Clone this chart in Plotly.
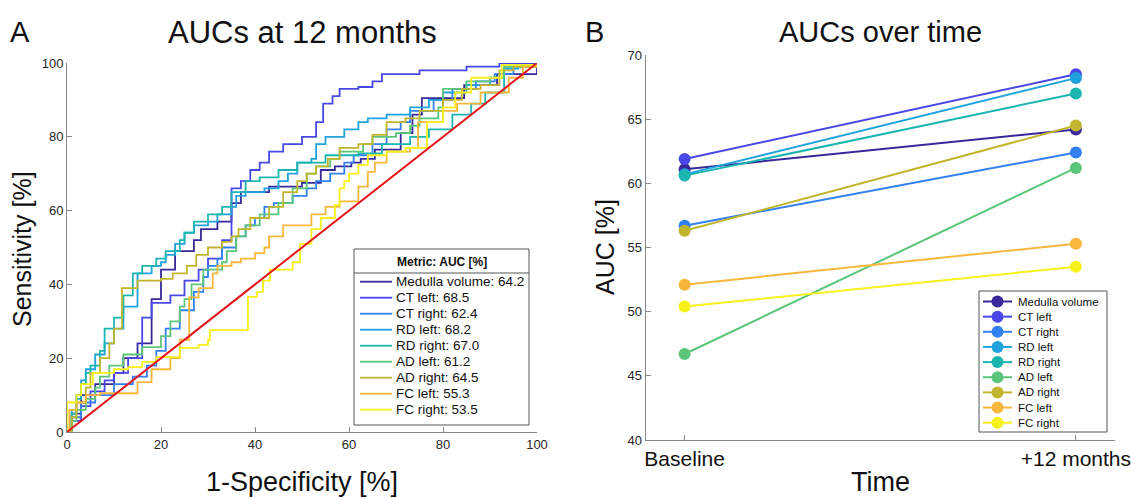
import plotly.graph_objects as go

# ---------------- data ----------------
metrics = ["Medulla volume", "CT left", "CT right", "RD left", "RD right",
           "AD left", "AD right", "FC left", "FC right"]
colors = ["#38299a", "#4848e6", "#3380f0", "#20a2de", "#1bb5b0",
          "#5bc57a", "#c0b52c", "#f6b73c", "#f7f01a"]
auc_baseline = [61.1, 61.9, 56.7, 60.7, 60.6, 46.7, 56.3, 52.1, 50.4]
auc_12m = [64.2, 68.5, 62.4, 68.2, 67.0, 61.2, 64.5, 55.3, 53.5]
time_labels = ["Baseline", "+12 months"]

# ROC curves (1-specificity %, sensitivity %), step vertices
medulla_fpr = [0, 1, 3, 6, 10, 12, 15, 18, 20, 23, 27, 28.5, 32, 35, 37, 43, 50, 54, 57, 60.5, 62.5, 65.5, 71, 73.5, 75.5, 84.5, 91.5, 100]
medulla_tpr = [0, 5, 10, 13, 16, 20, 24, 36, 44, 49, 52, 55, 57, 62, 65, 66.5, 67.5, 71, 72, 73, 74, 76.5, 81, 86, 90.5, 94, 97, 100]

ctl_fpr = [0, 1, 3, 5, 8, 10, 13, 16, 18, 22, 25, 28, 30, 33, 35, 37, 39, 41, 43, 46, 50, 53, 54.5, 56.5, 58, 62, 65, 67, 75, 85, 92, 100]
ctl_tpr = [0, 3, 7, 11, 14, 16, 20, 31, 35, 37, 41, 44, 47, 52, 66, 68, 71, 73, 76, 78, 80, 84, 89, 91, 93, 93.5, 95, 97, 98, 99, 100, 100]

ctr_fpr = [0, 1, 3, 6, 10, 14, 17, 19, 21, 24, 27, 29, 30, 32, 33, 36, 38, 40, 42, 44, 48, 51, 53, 56, 59, 61, 65, 68, 71, 73, 78, 82, 87, 91, 95, 100]
ctr_tpr = [0, 4, 8, 10, 13, 15, 18, 22, 28, 33, 38, 42, 45, 47, 50, 53, 56, 58, 61, 62, 64, 66, 68, 70, 73, 75, 78, 82, 84, 87, 90, 93, 95, 97, 99, 100]

rdl_fpr = [0, 1, 2, 3, 4, 6, 8, 10, 12, 15, 18, 20, 21, 23, 25, 27, 30, 32, 35, 36, 38, 42, 45, 47, 49, 52, 53, 55, 59, 62, 64, 68, 73, 77, 80, 85, 90, 93, 96, 100]
rdl_tpr = [0, 6, 10, 14, 17, 21, 24, 28, 34, 43, 45, 46, 48, 51, 54, 56, 57, 59, 61, 64, 65, 66, 68, 70, 73, 74, 78, 80, 82, 84, 85, 86, 88, 90, 92, 94, 96, 98.5, 99, 100]

rdr_fpr = [0, 1, 2, 3, 4, 5, 7, 8, 10, 12, 14, 16, 19, 21, 24, 25, 27, 30, 33, 35, 38, 41, 45, 49, 55, 62, 67, 73, 77, 82, 86, 89, 93, 100]
rdr_tpr = [0, 5, 9, 13, 16, 18, 22, 28, 31, 37, 43, 45, 47, 49, 52, 54, 57, 59, 61, 65, 68, 69, 71, 73, 75, 75.5, 78, 80, 82, 86, 89, 92, 99, 100]

adl_fpr = [0, 1, 2, 4, 6, 7, 9, 12, 16, 20, 22, 24, 25, 26.5, 29, 33, 34, 36, 38, 41, 45, 48, 51, 53, 56, 58, 63, 65, 70, 73, 75, 79, 80, 85, 90, 93, 100]
adl_tpr = [0, 3, 6, 9, 12, 15, 18, 21, 23, 26, 30, 34, 36, 40, 44, 46, 49, 53, 56, 59, 62, 66, 70, 72, 74, 76, 78, 80, 81, 83, 85, 88, 93, 95, 96, 99, 100]

adr_fpr = [0, 1, 2, 4, 5, 7, 9, 10, 11.7, 15, 20, 22.5, 25.5, 27.5, 30, 33, 35, 36.5, 39, 43, 46, 49, 51, 53, 55.5, 58, 62, 65, 68, 72, 75, 80, 84, 88, 92, 95, 100]
adr_tpr = [0, 4, 8, 12, 16, 20, 24, 28, 39, 41, 41.5, 43, 45, 48, 50, 51.5, 53, 55, 58, 61, 65, 68, 70, 72, 74, 77, 78, 80.5, 84, 85, 87, 90, 93, 94, 98, 99, 100]

fcl_fpr = [0, 0.5, 2, 4, 7, 15, 18, 22, 24, 26, 28, 31, 32, 35, 37, 40, 42, 43, 46, 52, 55, 58, 62, 64, 65.5, 68, 73, 74.7, 80, 83, 88, 94, 97, 100]
fcl_tpr = [0, 6, 8, 10, 10.5, 13.5, 17, 20, 25, 36.5, 39, 43, 45, 46, 47, 48.5, 50, 53, 56, 59, 61, 62.5, 66.5, 70.5, 73, 76, 77, 84, 87, 89, 92, 96, 99, 100]

fcr_fpr = [0, 0, 2, 3, 5.5, 10, 13, 16, 19, 24, 28, 30, 30.4, 38.5, 40.4, 41.7, 43.2, 48, 49.6, 52, 54, 57, 58, 59, 60, 62, 64, 68, 72, 76.6, 80, 82.6, 86, 92.5, 100]
fcr_tpr = [0, 8, 10, 13, 16, 17, 17.6, 19, 20.3, 22.8, 23.6, 25, 27.6, 36.6, 38, 41, 44, 46, 51, 55, 58, 61.5, 66, 68, 70, 72.4, 75, 76, 77, 84, 88, 92, 96, 99.5, 100]

roc_fpr = [medulla_fpr, ctl_fpr, ctr_fpr, rdl_fpr, rdr_fpr, adl_fpr, adr_fpr, fcl_fpr, fcr_fpr]
roc_tpr = [medulla_tpr, ctl_tpr, ctr_tpr, rdl_tpr, rdr_tpr, adl_tpr, adr_tpr, fcl_tpr, fcr_tpr]
chance_line = [0, 100]

# ---------------- layout geometry (pixels) ----------------
FONT = "Arial, Liberation Sans, sans-serif"
TXT = "#111111"
W, H = 1131, 498
L, R, T, B = 67, 16, 55, 58
PW, PH = W - L - R, H - T - B


def dx(p):
    return (p - L) / PW


def dy(p):
    return (H - B - p) / PH


fig = go.Figure()

for i, m in enumerate(metrics):
    fig.add_trace(go.Scatter(
        x=roc_fpr[i], y=roc_tpr[i], mode="lines",
        line=dict(color=colors[i], width=1.8, shape="hv"),
        name=f"{m}: {auc_12m[i]:.1f}", showlegend=False,
        xaxis="x", yaxis="y"))

fig.add_trace(go.Scatter(x=chance_line, y=chance_line, mode="lines",
                         line=dict(color="#e3141c", width=2),
                         showlegend=False, xaxis="x", yaxis="y"))

for i, m in enumerate(metrics):
    fig.add_trace(go.Scatter(
        x=[1, 2], y=[auc_baseline[i], auc_12m[i]], mode="lines+markers",
        line=dict(color=colors[i], width=2),
        marker=dict(color=colors[i], size=12),
        name=m, showlegend=False, xaxis="x2", yaxis="y2"))

axis_common = dict(showline=True, linecolor="#888888", linewidth=1,
                   ticks="inside", ticklen=5, tickcolor="#888888",
                   showgrid=False, zeroline=False, mirror=False, automargin=False,
                   tickfont=dict(family=FONT, size=13, color="#262626"))


def ann(text, x, y, size, angle=0, xanchor="center", bold=False):
    return dict(text=f"<b>{text}</b>" if bold else text, x=dx(x), y=dy(y),
                xref="paper", yref="paper",
                xanchor=xanchor, yanchor="middle", showarrow=False, textangle=angle,
                font=dict(family=FONT, size=size, color=TXT))


annotations = [
    ann("A", 8, 32, 29, xanchor="left"),
    ann("AUCs at 12 months", 302, 32, 31),
    ann("B", 583, 32, 29, xanchor="left"),
    ann("AUCs over time", 880, 32, 29),
    ann("Sensitivity [%]", 22, 249, 25, angle=-90),
    ann("1-Specificity [%]", 302, 482, 27),
    ann("AUC [%]", 605, 247, 25, angle=-90),
    ann("Time", 880, 482, 27),
]
shapes = []

# ---- legend of panel A (drawn as a boxed key) ----
LA_x0, LA_x1, LA_y0, LA_y1 = 354, 529, 249, 425
shapes.append(dict(type="rect", xref="paper", yref="paper", layer="above",
                   x0=dx(LA_x0), x1=dx(LA_x1), y0=dy(LA_y1), y1=dy(LA_y0),
                   fillcolor="white", line=dict(color="#555555", width=1)))
shapes.append(dict(type="line", xref="paper", yref="paper", layer="above",
                   x0=dx(LA_x0), x1=dx(LA_x1), y0=dy(273), y1=dy(273),
                   line=dict(color="#555555", width=1)))
annotations.append(ann("Metric: AUC [%]", (LA_x0 + LA_x1) / 2, 261.5, 12, bold=True))
for i, m in enumerate(metrics):
    yy = 281.7 + 16.0 * i
    shapes.append(dict(type="line", xref="paper", yref="paper", layer="above",
                       x0=dx(360), x1=dx(392), y0=dy(yy), y1=dy(yy),
                       line=dict(color=colors[i], width=1.8)))
    annotations.append(ann(f"{m}: {auc_12m[i]:.1f}", 394, yy, 13.5, xanchor="left"))

# ---- legend of panel B ----
LB_x0, LB_x1, LB_y0, LB_y1 = 979, 1107, 291, 432
shapes.append(dict(type="rect", xref="paper", yref="paper", layer="above",
                   x0=dx(LB_x0), x1=dx(LB_x1), y0=dy(LB_y1), y1=dy(LB_y0),
                   fillcolor="white", line=dict(color="#555555", width=1)))
for i, m in enumerate(metrics):
    yy = 301.5 + 15.15 * i
    shapes.append(dict(type="line", xref="paper", yref="paper", layer="above",
                       x0=dx(983), x1=dx(1012), y0=dy(yy), y1=dy(yy),
                       line=dict(color=colors[i], width=2)))
    shapes.append(dict(type="circle", xref="paper", yref="paper", layer="above",
                       x0=dx(997.5 - 6), x1=dx(997.5 + 6), y0=dy(yy + 6), y1=dy(yy - 6),
                       fillcolor=colors[i], line=dict(color=colors[i], width=0)))
    annotations.append(ann(m, 1016, yy, 11.5, xanchor="left"))

fig.update_layout(
    width=W, height=H,
    margin=dict(l=L, r=R, t=T, b=B, pad=0),
    paper_bgcolor="white", plot_bgcolor="white",
    font=dict(family=FONT, color=TXT),
    showlegend=False,
    xaxis=dict(axis_common, domain=[dx(67), dx(537)], range=[0, 100],
               tickvals=[0, 20, 40, 60, 80, 100], anchor="y"),
    yaxis=dict(axis_common, domain=[dy(432), dy(63)], range=[0, 100],
               tickvals=[0, 20, 40, 60, 80, 100], anchor="x"),
    xaxis2=dict(axis_common, domain=[dx(645.5), dx(1115)], range=[0.9, 2.1],
                tickvals=[1, 2], ticktext=time_labels, anchor="y2",
                ticklabeloverflow="allow",
                tickfont=dict(family=FONT, size=21, color=TXT)),
    yaxis2=dict(axis_common, domain=[dy(440), dy(55)], range=[40, 70],
                tickvals=[40, 45, 50, 55, 60, 65, 70], anchor="x2"),
    annotations=annotations,
    shapes=shapes,
)

fig.write_html("out.html", config={"displayModeBar": False},
               post_script="document.body.style.margin='0';")
